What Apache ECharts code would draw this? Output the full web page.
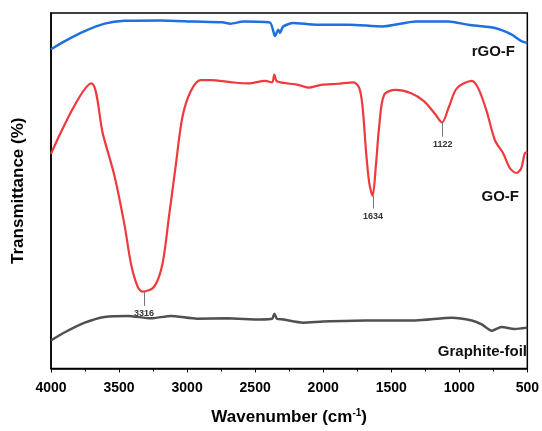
<!DOCTYPE html>
<html>
<head>
<meta charset="utf-8">
<script src="https://cdn.jsdelivr.net/npm/echarts@6/dist/echarts.min.js"></script>
<style>
html,body{margin:0;padding:0;background:#fff;}
#chart{width:542px;height:431px;}
</style>
</head>
<body>
<div id="chart"></div>
<script>
// Wavenumber ticks
const xTicks = [4000, 3500, 3000, 2500, 2000, 1500, 1000, 500];

// rGO-F (blue)
const rgoWn = [4000, 3898, 3752, 3606, 3460, 3193, 2950, 2740, 2682, 2585, 2391, 2354, 2330, 2318, 2294, 2221, 2051, 1807, 1565, 1322, 1078, 932, 738, 617, 544, 500];
const rgoT  = [89.8, 92.1, 94.9, 97.0, 97.8, 97.9, 97.6, 97.4, 97.0, 97.6, 97.3, 93.5, 95.3, 94.4, 96.2, 97.2, 96.7, 96.7, 96.2, 97.6, 97.6, 96.7, 95.8, 94.0, 92.1, 91.6];

// GO-F (red)
const goWn = [4000, 3703, 3619, 3533, 3460, 3412, 3363, 3327, 3242, 3181, 3132, 3084, 3035, 2974, 2901, 2828, 2671, 2549, 2427, 2375, 2359, 2340, 2184, 2111, 2014, 1893, 1776, 1734, 1710, 1686, 1662, 1637, 1613, 1589, 1552, 1467, 1358, 1260, 1176, 1127, 1078, 1018, 908, 860, 799, 738, 677, 629, 580, 544, 519, 500];
const goT  = [60.4, 80.2, 66.0, 54.1, 40.4, 29.4, 23.0, 21.6, 23.0, 29.4, 43.1, 56.9, 70.6, 77.9, 81.1, 81.1, 80.5, 80.2, 80.9, 80.5, 82.7, 80.8, 79.8, 79.0, 79.8, 80.1, 80.5, 78.8, 73.4, 61.5, 52.3, 48.6, 56.9, 67.9, 77.0, 78.4, 77.5, 75.2, 71.5, 69.2, 73.4, 78.8, 80.9, 78.8, 72.4, 64.2, 60.5, 56.4, 55.0, 56.4, 60.5, 61.0];

// Graphite-foil (gray)
const gfWn = [4000, 3898, 3752, 3606, 3436, 3266, 3120, 2926, 2707, 2464, 2375, 2359, 2340, 2294, 2148, 2002, 1686, 1322, 1054, 908, 835, 762, 690, 593, 500];
const gfT  = [7.9, 10.2, 12.9, 14.5, 14.8, 14.1, 14.8, 14.0, 14.1, 13.8, 14.0, 15.4, 14.0, 13.8, 12.9, 13.2, 13.5, 13.5, 14.3, 13.5, 12.4, 10.6, 11.7, 11.1, 11.5];

// Peak annotations on GO-F
const peakWn    = [3316, 1634, 1122];
const peakTop   = [21.6, 48.6, 69.2];
const peakBot   = [17.6, 45.0, 65.2];

const seriesNames = ['rGO-F', 'GO-F', 'Graphite-foil'];

const pairs = (xs, ys) => xs.map((x, i) => [x, ys[i]]);

const chart = echarts.init(document.getElementById('chart'), null, {renderer: 'canvas'});
const FONT = 'Liberation Sans, Arial, sans-serif';

chart.setOption({
  animation: false,
  backgroundColor: '#fff',
  grid: {left: 51, right: 11, top: 13, bottom: 55, show: true, borderColor: '#000', borderWidth: 1.5, containLabel: false},
  xAxis: {
    type: 'value', inverse: true, min: 500, max: 4000, interval: 500,
    name: 'Wavenumber (cm{sup|-1})', nameLocation: 'middle', nameGap: 40,
    nameTextStyle: {fontFamily: FONT, fontSize: 17, fontWeight: 'bold', color: '#000',
      rich: {sup: {fontFamily: FONT, fontSize: 10, fontWeight: 'bold', color: '#000', verticalAlign: 'top', padding: [0, 0, 8, 0]}}},
    axisLine: {show: true, lineStyle: {color: '#000', width: 1.5}},
    axisTick: {show: true, inside: false, length: 4, lineStyle: {color: '#000', width: 1}},
    minorTick: {show: true, splitNumber: 2, length: 3, lineStyle: {color: '#000', width: 1}},
    axisLabel: {fontFamily: FONT, fontSize: 14, fontWeight: 'bold', color: '#000', margin: 13,
      formatter: v => xTicks.includes(v) ? String(v) : ''},
    splitLine: {show: false}
  },
  yAxis: {
    type: 'value', min: 0, max: 100,
    name: 'Transmittance (%)', nameLocation: 'middle', nameGap: 24,
    nameTextStyle: {fontFamily: FONT, fontSize: 17, fontWeight: 'bold', color: '#000'},
    axisLine: {show: true, lineStyle: {color: '#000', width: 1.5}},
    axisTick: {show: false}, axisLabel: {show: false}, splitLine: {show: false}
  },
  series: [
    {name: seriesNames[0], type: 'line', data: pairs(rgoWn, rgoT), showSymbol: false, smooth: 0.2,
     lineStyle: {color: '#1e6fe0', width: 2.5}, itemStyle: {color: '#1e6fe0'}},
    {name: seriesNames[1], type: 'line', data: pairs(goWn, goT), showSymbol: false, smooth: 0.3,
     lineStyle: {color: '#f0393c', width: 2.2}, itemStyle: {color: '#f0393c'},
     markLine: {
       silent: true, symbol: ['none', 'none'],
       lineStyle: {color: '#777', width: 1, type: 'solid'},
       label: {show: true, position: 'end', formatter: '{b}', fontFamily: FONT, fontSize: 9, fontWeight: 'bold', color: '#333', distance: 3},
       data: peakWn.map((w, i) => [{name: String(w), coord: [w, peakTop[i]]}, {coord: [w, peakBot[i]]}])
     }},
    {name: seriesNames[2], type: 'line', data: pairs(gfWn, gfT), showSymbol: false, smooth: 0.2,
     lineStyle: {color: '#505050', width: 2.5}, itemStyle: {color: '#505050'}}
  ],
  graphic: [
    {type: 'text', right: 27, top: 44, style: {text: seriesNames[0], font: 'bold 15px ' + FONT, fill: '#111'}},
    {type: 'text', right: 23, top: 189, style: {text: seriesNames[1], font: 'bold 15px ' + FONT, fill: '#111'}},
    {type: 'text', right: 15, top: 344, style: {text: seriesNames[2], font: 'bold 15px ' + FONT, fill: '#111'}}
  ]
});
</script>
</body>
</html>
